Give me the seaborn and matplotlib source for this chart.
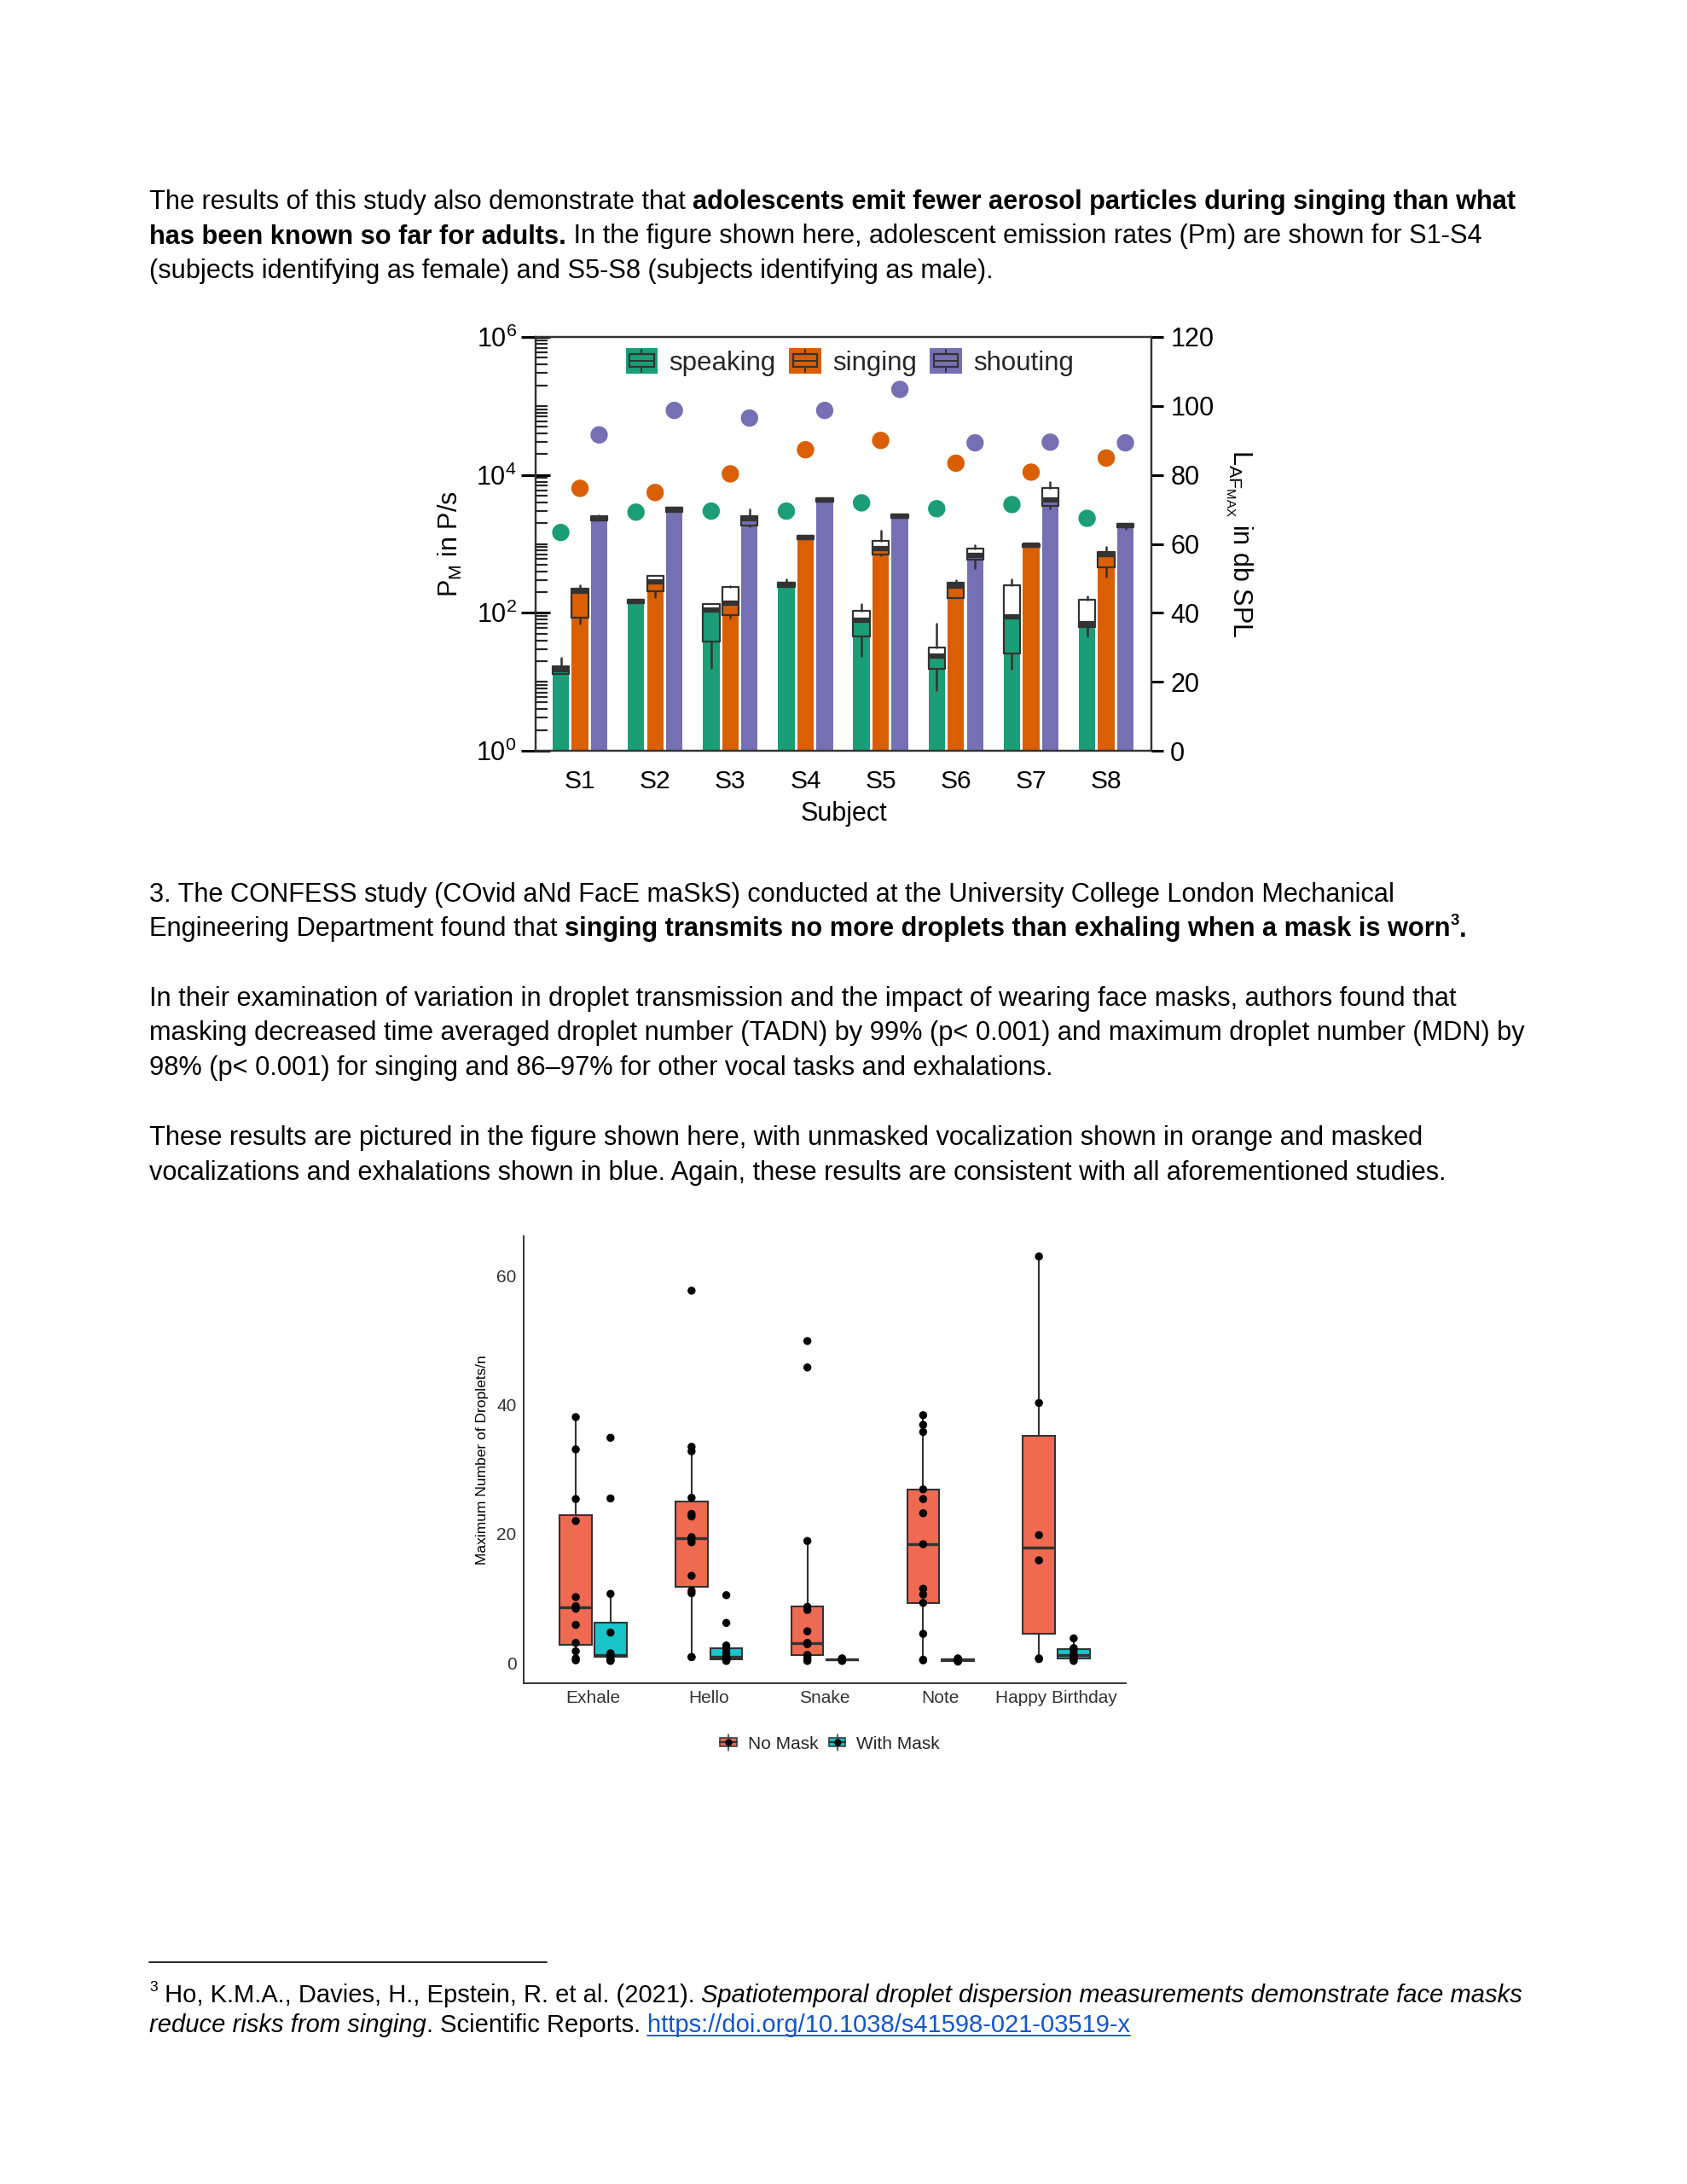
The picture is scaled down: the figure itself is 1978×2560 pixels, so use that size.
import numpy as np
import pandas as pd
import seaborn as sns
import matplotlib.pyplot as plt
from matplotlib.patches import Patch, Rectangle
from matplotlib.lines import Line2D
from matplotlib.legend_handler import HandlerBase
from matplotlib.ticker import LogLocator, FixedLocator, NullFormatter

# ---------------- data: chart 1 (adolescent emission rates) ----------------
subjects = ['S1', 'S2', 'S3', 'S4', 'S5', 'S6', 'S7', 'S8']
activities = ['speaking', 'singing', 'shouting']

# P_M in P/s : median, quartiles, whisker ends
speak_med = [15, 147, 110, 258, 79, 23.5, 88, 70]
speak_q1 = [13, 138, 38, 240, 46, 15.5, 26, 63]
speak_q3 = [16.7, 156, 133, 275, 108, 31, 253, 155]
speak_lo = [13, 138, 15.8, 240, 23.5, 7.6, 15.5, 46]
speak_hi = [22, 156, 135, 308, 136, 69, 308, 174]

sing_med = [208, 283, 139, 1235, 850, 245, 950, 700]
sing_q1 = [84, 208, 94, 1160, 700, 166, 900, 460]
sing_q3 = [226, 343, 239, 1310, 1100, 272, 1000, 760]
sing_lo = [69, 170, 85, 1160, 680, 166, 900, 330]
sing_hi = [253, 343, 245, 1310, 1550, 300, 1000, 910]

shout_med = [2350, 3160, 2300, 4370, 2560, 680, 4300, 1830]
shout_q1 = [2180, 2950, 1870, 4100, 2400, 590, 3550, 1720]
shout_q3 = [2550, 3350, 2500, 4650, 2700, 860, 6470, 1950]
shout_lo = [2180, 2950, 1800, 4100, 2400, 445, 3300, 1650]
shout_hi = [2600, 3350, 3160, 4650, 2700, 960, 7800, 1980]

# L_AF,MAX in dB SPL (dots, right axis)
speak_db = [63.3, 69.2, 69.5, 69.5, 71.9, 70.2, 71.4, 67.4]
sing_db = [76.1, 74.9, 80.3, 87.3, 90.0, 83.4, 80.8, 84.9]
shout_db = [91.6, 98.7, 96.5, 98.7, 104.8, 89.3, 89.5, 89.3]

# ---------------- data: chart 2 (CONFESS maximum droplet number) ----------------
tasks = ['Exhale', 'Hello', 'Snake', 'Note', 'Happy Birthday']
masks = ['No Mask', 'With Mask']
exhale_nomask = [0.4, 0.7, 1.8, 3.1, 5.9, 8.4, 8.8, 10.2, 22.0, 25.4, 33.1, 38.1]
exhale_mask = [0.3, 0.4, 0.6, 1.0, 1.1, 1.2, 1.3, 1.5, 4.7, 10.7, 25.5, 34.9]
hello_nomask = [0.9, 0.9, 10.8, 11.2, 13.5, 18.7, 19.2, 19.5, 22.7, 23.1, 25.6, 32.8, 33.5, 57.7]
hello_mask = [0.3, 0.4, 0.5, 0.6, 0.8, 0.9, 1.0, 1.5, 2.2, 2.7, 6.2, 10.5]
snake_nomask = [0.3, 0.6, 0.9, 1.25, 2.9, 3.0, 3.1, 4.9, 8.2, 8.7, 18.9, 45.8, 49.9]
snake_mask = [0.3, 0.4, 0.5, 0.5, 0.5, 0.6, 0.6, 0.7]
note_nomask = [0.4, 0.5, 4.5, 9.3, 10.6, 11.5, 18.4, 23.2, 25.4, 26.9, 35.8, 36.9, 38.4]
note_mask = [0.2, 0.3, 0.4, 0.5, 0.5, 0.6, 0.7]
bday_nomask = [0.6, 0.7, 15.9, 19.8, 40.3, 63.0]
bday_mask = [0.3, 0.6, 0.8, 1.1, 1.4, 2.0, 2.3, 3.8]

# ---------------- page setup ----------------
W, H = 1978, 2560
sns.set_theme(style='white')
plt.rcParams['font.family'] = ['Liberation Sans', 'DejaVu Sans']
plt.rcParams['mathtext.fontset'] = 'custom'
plt.rcParams['mathtext.rm'] = 'Liberation Sans'
plt.rcParams['mathtext.it'] = 'Liberation Sans:italic'
plt.rcParams['mathtext.bf'] = 'Liberation Sans:bold'

fig = plt.figure(figsize=(W / 100, H / 100), dpi=100)
fig.patch.set_facecolor('white')
renderer = fig.canvas.get_renderer()


def fx(px):
    return px / W


def fy(py):
    return 1 - py / H


BODY = 22.15
FOOT = 21.0


def piece_width(txt, **kw):
    a = fig.text(0, 0, 'x' + txt + 'x', **kw)
    b = fig.text(0, 0, 'xx', **kw)
    w = a.get_window_extent(renderer).width - b.get_window_extent(renderer).width
    a.remove()
    b.remove()
    return w


def put_line(pieces, x0, ybase, size):
    x = x0
    for txt, st in pieces:
        kw = dict(fontsize=size, color='black')
        dy = 0
        if 'b' in st:
            kw['fontweight'] = 'bold'
        if 'i' in st:
            kw['fontstyle'] = 'italic'
        if 's' in st:
            kw['fontsize'] = size * 0.6
            dy = -size * 0.6
        if 'l' in st:
            kw['color'] = '#1155CC'
        fig.text(fx(x), fy(ybase + dy), txt, va='baseline', ha='left', **kw)
        w = piece_width(txt, **kw)
        if 'l' in st:
            fig.add_artist(Line2D([fx(x), fx(x + w)], [fy(ybase + 4), fy(ybase + 4)],
                                  color='#1155CC', lw=1.3))
        x += w


X0 = 175
put_line([('The results of this study also demonstrate that ', ''),
          ('adolescents emit fewer aerosol particles during singing than what', 'b')], X0, 245, BODY)
put_line([('has been known so far for adults.', 'b'),
          (' In the figure shown here, adolescent emission rates (Pm) are shown for S1-S4', '')], X0, 285.5, BODY)
put_line([('(subjects identifying as female) and S5-S8 (subjects identifying as male).', '')], X0, 326, BODY)

put_line([('3. The CONFESS study (COvid aNd FacE maSkS) conducted at the University College London Mechanical', '')],
         X0, 1057, BODY)
put_line([('Engineering Department found that ', ''),
          ('singing transmits no more droplets than exhaling when a mask is worn', 'b'),
          ('3', 'bs'), ('.', 'b')], X0, 1097.5, BODY)

put_line([('In their examination of variation in droplet transmission and the impact of wearing face masks, '
           'authors found that', '')], X0, 1179, BODY)
put_line([('masking decreased time averaged droplet number (TADN) by 99% (p< 0.001) and maximum droplet '
           'number (MDN) by', '')], X0, 1219.5, BODY)
put_line([('98% (p< 0.001) for singing and 86\u201397% for other vocal tasks and exhalations.', '')], X0, 1260, BODY)

put_line([('These results are pictured in the figure shown here, with unmasked vocalization shown in orange '
           'and masked', '')], X0, 1342, BODY)
put_line([('vocalizations and exhalations shown in blue. Again, these results are consistent with all '
           'aforementioned studies.', '')], X0, 1382.5, BODY)

fig.add_artist(Line2D([fx(175), fx(641)], [fy(2300), fy(2300)], color='black', lw=1.2))
put_line([('3', 's'), (' Ho, K.M.A., Davies, H., Epstein, R. et al. (2021). ', ''),
          ('Spatiotemporal droplet dispersion measurements demonstrate face masks', 'i')], X0, 2347, FOOT)
put_line([('reduce risks from singing', 'i'), ('. Scientific Reports. ', ''),
          ('https://doi.org/10.1038/s41598-021-03519-x', 'l')], X0, 2382, FOOT)

# ---------------- chart 1 ----------------
c_speak, c_sing, c_shout = '#1B9E77', '#D95F02', '#7570B3'
pal1 = [c_speak, c_sing, c_shout]
DARK = '#333333'

ax = fig.add_axes([fx(628), fy(880), fx(1350) - fx(628), fy(395) - fy(880)])
ax.set_yscale('log')

df1 = pd.DataFrame({
    'subject': subjects * 3,
    'activity': np.repeat(activities, len(subjects)),
    'pm': speak_med + sing_med + shout_med,
})

GROUP_W = 0.765
GAP = 0.14
step = GROUP_W / 3
bw = step * (1 - GAP)
offsets = (np.arange(3) - 1) * step
xs = np.arange(len(subjects))

meds = [speak_med, sing_med, shout_med]
q1s = [speak_q1, sing_q1, shout_q1]
q3s = [speak_q3, sing_q3, shout_q3]
los = [speak_lo, sing_lo, shout_lo]
his = [speak_hi, sing_hi, shout_hi]
dbs = [speak_db, sing_db, shout_db]

# white box body behind the bars
for j in range(3):
    q1 = np.array(q1s[j])
    q3 = np.array(q3s[j])
    ax.bar(xs + offsets[j], q3 - q1, bottom=q1, width=bw, color='white', zorder=1, lw=0)

sns.barplot(data=df1, x='subject', y='pm', hue='activity', order=subjects, hue_order=activities,
            palette=pal1, saturation=1, width=GROUP_W, gap=GAP, errorbar=None, legend=False,
            linewidth=0, zorder=2, ax=ax)

for j in range(3):
    stats = [dict(med=meds[j][i], q1=q1s[j][i], q3=q3s[j][i], whislo=los[j][i], whishi=his[j][i], fliers=[])
             for i in range(len(subjects))]
    ax.bxp(stats, positions=xs + offsets[j], widths=bw, showfliers=False, showcaps=False,
           boxprops=dict(color=DARK, lw=1.6), whiskerprops=dict(color=DARK, lw=1.8),
           medianprops=dict(color=DARK, lw=4.5, solid_capstyle='butt'), manage_ticks=False, zorder=3)

ax.set_ylim(1, 1e6)
ax.set_xlim(-0.59, 7.6)
ax.set_xticks(xs)
ax.set_xticklabels(subjects)
ax.yaxis.set_major_locator(FixedLocator([1, 1e2, 1e4, 1e6]))
ax.yaxis.set_minor_locator(LogLocator(base=10, subs=np.arange(1, 10), numticks=20))
ax.yaxis.set_minor_formatter(NullFormatter())
ax.set_yticklabels([r'$10^{0}$', r'$10^{2}$', r'$10^{4}$', r'$10^{6}$'])
ax.tick_params(axis='y', which='major', direction='inout', length=24, width=2.2, labelsize=22, pad=4, colors='black')
ax.tick_params(axis='y', which='minor', direction='in', length=10, width=1.6)
ax.tick_params(axis='x', which='major', direction='out', length=10, width=3, labelsize=21.5, pad=6, colors='black')
ax.tick_params(axis='x', which='minor', bottom=False)
for s in ax.spines.values():
    s.set_visible(True)
    s.set_color(DARK)
    s.set_linewidth(1.6)
ax.set_xlabel('Subject', fontsize=22, labelpad=6, color='black')
ax.set_ylabel(r'P$_{\mathrm{M}}$ in P/s', fontsize=22, labelpad=10, color='black')

ax2 = ax.twinx()
for j in range(3):
    sns.scatterplot(x=xs + offsets[j], y=dbs[j], color=pal1[j], s=215, edgecolor='none', legend=False, ax=ax2)
ax2.set_ylim(0, 120)
ax2.set_yticks(np.arange(0, 121, 20))
ax2.tick_params(axis='y', direction='out', length=10, width=2.2, labelsize=22, pad=6, colors='black')
ax2.set_xlim(-0.59, 7.6)
for s in ax2.spines.values():
    s.set_color(DARK)
    s.set_linewidth(1.6)
ax2.set_ylabel(r'L$_{\mathrm{AF}_{\mathrm{MAX}}}$ in db SPL', fontsize=22, rotation=270, labelpad=34, color='black')


class BarBoxHandler(HandlerBase):
    def create_artists(self, legend, orig, xd, yd, w, h, fontsize, trans):
        x0, y0 = -xd, -yd
        arts = [Rectangle((x0, y0), w, h, facecolor=orig.get_facecolor(), edgecolor='none', transform=trans)]
        arts.append(Rectangle((x0 + 0.12 * w, y0 + 0.25 * h), 0.76 * w, 0.5 * h, facecolor='none',
                              edgecolor=DARK, lw=1.6, transform=trans))
        cx = x0 + w / 2
        arts.append(Line2D([cx, cx], [y0 + 0.08 * h, y0 + 0.25 * h], color=DARK, lw=1.4, transform=trans))
        arts.append(Line2D([cx, cx], [y0 + 0.75 * h, y0 + 0.92 * h], color=DARK, lw=1.4, transform=trans))
        arts.append(Line2D([x0 + 0.12 * w, x0 + 0.88 * w], [y0 + 0.5 * h, y0 + 0.5 * h], color=DARK, lw=1.4,
                           transform=trans))
        return arts


h1 = [Patch(facecolor=c) for c in pal1]
leg1 = ax.legend(h1, activities, loc='upper center', bbox_to_anchor=(0.51, 1.012), ncol=3, frameon=False,
                 fontsize=22.5, handlelength=1.2, handleheight=1.1, handletextpad=0.42, columnspacing=0.5,
                 borderaxespad=0.2, handler_map={Patch: BarBoxHandler()})

# ---------------- chart 2 ----------------
c_nomask, c_mask = '#EE6A50', '#19C5CB'
pal2 = [c_nomask, c_mask]
groups = [[exhale_nomask, exhale_mask], [hello_nomask, hello_mask], [snake_nomask, snake_mask],
          [note_nomask, note_mask], [bday_nomask, bday_mask]]
rows = []
for ti, t in enumerate(tasks):
    for mi, m in enumerate(masks):
        for v in groups[ti][mi]:
            rows.append((t, m, v, ti + (mi - 0.5) * 0.3))
df2 = pd.DataFrame(rows, columns=['task', 'mask', 'value', 'xpos'])

bx = fig.add_axes([fx(614), fy(1973), fx(1320) - fx(614), fy(1449) - fy(1973)])
sns.boxplot(data=df2, x='task', y='value', hue='mask', order=tasks, hue_order=masks, palette=pal2,
            saturation=1, width=0.6, gap=0.08, showfliers=False, showcaps=False, linecolor=DARK,
            linewidth=1.5, medianprops=dict(lw=2.4), legend=False, ax=bx)
sns.scatterplot(data=df2, x='xpos', y='value', color='black', s=46, edgecolor='none', legend=False, zorder=4, ax=bx)
bx.set_xlim(-0.6, 4.6)
bx.set_ylim(-3.15, 66.15)
bx.set_yticks([0, 20, 40, 60])
bx.set_xticks(range(len(tasks)))
bx.set_xticklabels(tasks)
bx.set_xlabel('')
bx.set_ylabel('Maximum Number of Droplets/n', fontsize=12.5, labelpad=7, color='black')
sns.despine(ax=bx)
for s in ['left', 'bottom']:
    bx.spines[s].set_color(DARK)
    bx.spines[s].set_linewidth(1.4)
bx.tick_params(axis='both', direction='out', length=4, width=1, colors='#4D4D4D', labelsize=15,
               labelcolor='#333333', pad=2)


class BoxKeyHandler(HandlerBase):
    def create_artists(self, legend, orig, xd, yd, w, h, fontsize, trans):
        x0, y0 = -xd, -yd
        cx = x0 + w / 2
        cy = y0 + h / 2
        arts = [Line2D([cx, cx], [y0 - 0.15 * h, y0 + 1.15 * h], color=DARK, lw=1.1, transform=trans),
                Rectangle((x0, y0 + 0.15 * h), w, 0.7 * h, facecolor=orig.get_facecolor(), edgecolor=DARK,
                          lw=1.1, transform=trans),
                Line2D([x0, x0 + w], [cy, cy], color=DARK, lw=1.6, transform=trans),
                Line2D([cx], [cy], marker='o', ms=5, color='black', lw=0, transform=trans)]
        return arts


h2 = [Patch(facecolor=c) for c in pal2]
fig.legend(h2, masks, loc='center', bbox_to_anchor=(fx(973), fy(2044)), bbox_transform=fig.transFigure,
           ncol=2, frameon=False, fontsize=15, handlelength=0.95, handleheight=0.7, handletextpad=0.6,
           columnspacing=0.6, handler_map={Patch: BoxKeyHandler()})

fig.savefig('out.png', dpi=100, facecolor='white')
